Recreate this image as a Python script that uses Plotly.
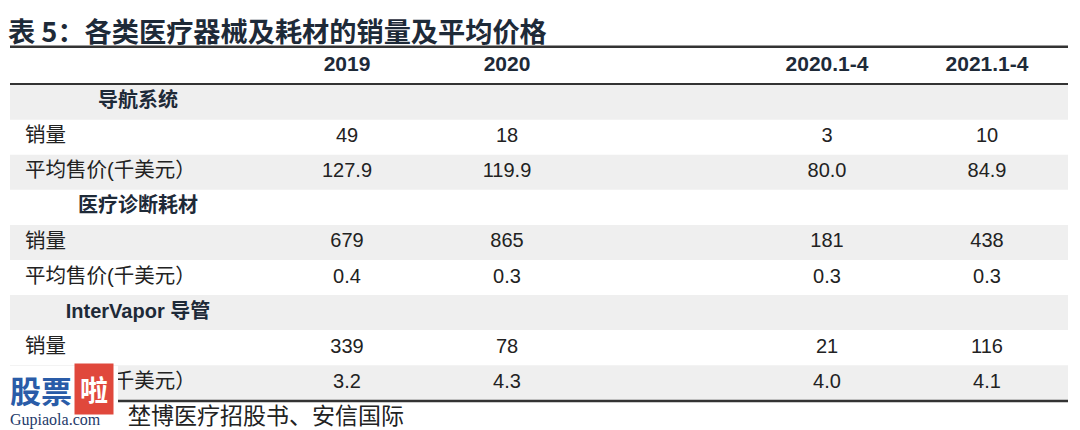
import plotly.graph_objects as go

# the page puts the figure 8px in from the top-left corner
OFF = 8
W, H = 1080 - OFF, 430 - OFF

# table contents
periods = ["2019", "2020", "2020.1-4", "2021.1-4"]
products = ["导航系统", "医疗诊断耗材", "InterVapor 导管"]
metric_labels = ["销量", "平均售价(千美元）"]

nav_sales = [49, 18, 3, 10]
nav_price = [127.9, 119.9, 80.0, 84.9]
diag_sales = [679, 865, 181, 438]
diag_price = [0.4, 0.3, 0.3, 0.3]
iv_sales = [339, 78, 21, 116]
iv_price = [3.2, 4.3, 4.0, 4.1]

title = "表 5：各类医疗器械及耗材的销量及平均价格"
source = "埜博医疗招股书、安信国际"

DARK = "#1e2a38"
TEXT = "#222222"
GRAY = "#efefef"
NUM_FONT = "Liberation Sans, Arial, sans-serif"
CJK_FONT = "Liberation Sans, Noto Sans CJK SC, sans-serif"

# geometry (page pixels): column pitch, row pitch, first cell centre
COL_PX, ROW_PX = 160, 35.06
FIRST_COL_PX, FIRST_ROW_PX = 347, 102.2
LEFT_PX, RIGHT_PX = 10, 1068
# x slot of each period; slot 2 is an empty spacer column
COL_X = [0, 1, 3, 4]


def px(x):
    return (x - OFF) / W


def py(y):
    return 1 - (y - OFF) / H


def to_x(p):
    return (p - FIRST_COL_PX) / COL_PX


# build rows: group heading, then sales and price
groups = [(nav_sales, nav_price), (diag_sales, diag_price), (iv_sales, iv_price)]
heads, metrics, rows = [], [], []
for name, (sales, price) in zip(products, groups):
    heads.append((len(rows), name))
    rows.append([""] * len(periods))
    metrics.append((len(rows), metric_labels[0]))
    rows.append([str(v) for v in sales])
    metrics.append((len(rows), metric_labels[1]))
    rows.append([f"{v:.1f}" for v in price])
n = len(rows)

fig = go.Figure()

# alternating row bands
for i in range(0, n, 2):
    fig.add_shape(type="rect", xref="paper", yref="y", layer="below",
                  x0=px(LEFT_PX), x1=px(RIGHT_PX), y0=i - 0.5, y1=i + 0.5,
                  fillcolor=GRAY, line=dict(width=0))

# header
fig.add_trace(go.Scatter(
    x=COL_X, y=[-1.04] * len(periods), mode="text",
    text=[f"<b>{p}</b>" for p in periods],
    textfont=dict(family=NUM_FONT, size=21, color=DARK),
))

# values, one trace per period column
for j, cx in enumerate(COL_X):
    fig.add_trace(go.Scatter(
        x=[cx] * n, y=list(range(n)), mode="text",
        text=[r[j] for r in rows],
        textfont=dict(family=NUM_FONT, size=20, color=TEXT),
    ))

# row labels
fig.add_trace(go.Scatter(
    x=[to_x(25)] * len(metrics), y=[r for r, _ in metrics], mode="text",
    text=[t for _, t in metrics], textposition="middle right",
    textfont=dict(family=CJK_FONT, size=20.5, color=TEXT),
))
fig.add_trace(go.Scatter(
    x=[to_x(138)] * len(heads), y=[r for r, _ in heads], mode="text",
    text=[f"<b>{t}</b>" for _, t in heads], textposition="middle center",
    textfont=dict(family=CJK_FONT, size=20, color=DARK),
))

# horizontal rules
for y, w in [(-1.58, 2.5), (-0.52, 2), (n - 0.48, 2.5)]:
    fig.add_shape(type="line", xref="paper", yref="y",
                  x0=px(LEFT_PX), x1=px(RIGHT_PX), y0=y, y1=y,
                  line=dict(color="#333333", width=w))

fig.add_annotation(
    text=f"<b>{title}</b>", xref="paper", yref="paper",
    x=px(6), y=py(30), xanchor="left", yanchor="middle", showarrow=False,
    font=dict(family="Noto Sans CJK SC, Liberation Sans", size=27.2, color=DARK),
)
fig.add_annotation(
    text=source, xref="paper", yref="paper",
    x=px(126), y=py(414), xanchor="left", yanchor="middle", showarrow=False,
    font=dict(family="Noto Sans CJK SC", size=23, color=TEXT),
)

# watermark in the lower left corner
fig.add_shape(type="rect", xref="paper", yref="paper", layer="above",
              x0=0, x1=px(118), y0=0, y1=py(366),
              fillcolor="white", line=dict(width=0))
fig.add_annotation(
    text="<b>股票</b>", xref="paper", yref="paper",
    x=px(8), y=py(389), xanchor="left", yanchor="middle", showarrow=False,
    font=dict(family="Noto Sans CJK SC", size=31, color="#2a5ca8"),
)
fig.add_annotation(
    text="<b>啦</b>", xref="paper", yref="paper",
    x=px(94), y=py(389), xanchor="center", yanchor="middle", showarrow=False,
    bgcolor="#e0483c", borderpad=5,
    font=dict(family="Noto Sans CJK SC", size=28, color="white"),
)
fig.add_annotation(
    text="Gupiaola.com", xref="paper", yref="paper",
    x=px(8), y=py(420), xanchor="left", yanchor="middle", showarrow=False,
    font=dict(family="Liberation Serif", size=16, color="#1e3a6a"),
)

x0 = to_x(OFF)
y_top = -(FIRST_ROW_PX - OFF) / ROW_PX
fig.update_layout(
    width=W, height=H,
    margin=dict(l=0, r=0, t=0, b=0),
    paper_bgcolor="white", plot_bgcolor="white",
    showlegend=False, hovermode=False,
    xaxis=dict(visible=False, range=[x0, x0 + W / COL_PX], fixedrange=True),
    yaxis=dict(visible=False, range=[y_top + H / ROW_PX, y_top], fixedrange=True),
)

fig.write_html("out.html")
